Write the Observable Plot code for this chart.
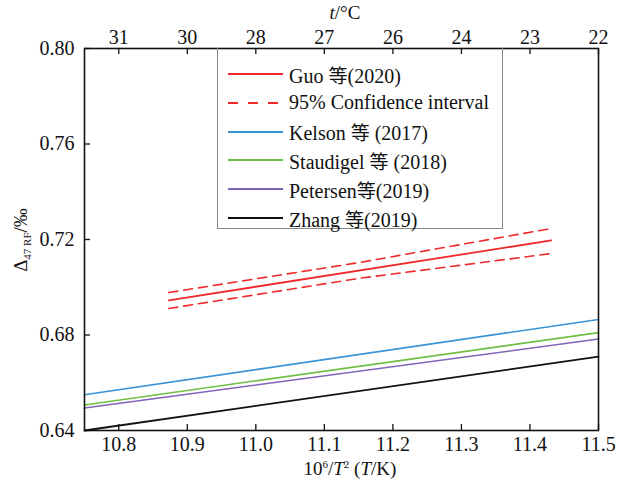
<!DOCTYPE html>
<html>
<head>
<meta charset="utf-8">
<script src="https://cdn.jsdelivr.net/npm/d3@7"></script>
<script src="https://cdn.jsdelivr.net/npm/@observablehq/plot@0.6"></script>
<style>
  html, body { margin: 0; padding: 0; background: #fff; }
  #wrap { position: relative; width: 627px; height: 490px; font-family: "Liberation Serif", "Times New Roman", "Noto Sans CJK SC", serif; color: #111; }
  .lbl { position: absolute; font-family: "Liberation Serif", "Times New Roman", serif; font-size: 19px; white-space: nowrap; line-height: 1; }
  #legend { position: absolute; left: 217px; top: 48px; width: 286px; height: 181px; border: 1px solid #888; border-top: none; box-sizing: border-box; background: transparent; }
  .row { position: absolute; left: 0; height: 24px; display: flex; align-items: center; font-family: "Liberation Serif", "Times New Roman", serif; font-size: 20px; white-space: nowrap; }
  .row svg { margin-left: 10px; margin-right: 6px; }
  .cjk { font-family: "Noto Sans CJK SC", sans-serif; font-size: 19px; }
</style>
</head>
<body>
<div id="wrap"></div>
<script>
// ---- data ----
const xTicks = [10.8, 10.9, 11.0, 11.1, 11.2, 11.3, 11.4, 11.5];
const xTickLabels = ["10.8", "10.9", "11.0", "11.1", "11.2", "11.3", "11.4", "11.5"];
const topTickLabels = ["31", "30", "28", "27", "26", "24", "23", "22"];
const yTicks = [0.64, 0.68, 0.72, 0.76, 0.80];
const yTickLabels = ["0.64", "0.68", "0.72", "0.76", "0.80"];

const fullX = [10.75, 11.5];
const kelsonY = [0.6550, 0.6865];
const staudigelY = [0.6507, 0.6810];
const petersenY = [0.6494, 0.6783];
const zhangY = [0.6400, 0.6709];

const guoX = [10.873, 11.431];
const guoY = [0.6945, 0.7196];
const ciX = [10.873, 11.15, 11.431];
const ciUpperY = [0.6978, 0.7103, 0.7246];
const ciLowerY = [0.6911, 0.7037, 0.7141];

const seriesNames = ["Guo 等(2020)", "95% Confidence interval", "Kelson 等 (2017)", "Staudigel 等 (2018)", "Petersen等(2019)", "Zhang 等(2019)"];
const seriesColors = ["#ee2a2d", "#ee2a2d", "#3a93d6", "#6fbf45", "#8064b8", "#111111"];
const seriesDash = [null, "9,6", null, null, null, null];

// ---- build ----
const pts = (xs, ys) => xs.map((x, i) => ({x, y: ys[i]}));
const xLabel = new Map(xTicks.map((v, i) => [v, xTickLabels[i]]));
const topLabel = new Map(xTicks.map((v, i) => [v, topTickLabels[i]]));
const yLabel = new Map(yTicks.map((v, i) => [v, yTickLabels[i]]));

const W = 627, H = 490, mL = 84, mR = 29, mT = 48, mB = 60;
const innerH = H - mT - mB, innerW = W - mL - mR, tick = 6;

const lineOpts = (c, dash, sw = 1.6) => ({x: "x", y: "y", stroke: c, strokeWidth: sw, strokeDasharray: dash ?? undefined});

const chart = Plot.plot({
  width: W, height: H,
  marginLeft: mL, marginRight: mR, marginTop: mT, marginBottom: mB,
  x: {domain: [10.75, 11.5]},
  y: {domain: [0.64, 0.80]},
  style: {fontFamily: '"Liberation Serif", "Times New Roman", serif', fontSize: "20px", background: "white", color: "#111"},
  marks: [
    Plot.line(pts(fullX, zhangY), lineOpts(seriesColors[5], null, 1.8)),
    Plot.line(pts(fullX, petersenY), lineOpts(seriesColors[4], null)),
    Plot.line(pts(fullX, staudigelY), lineOpts(seriesColors[3], null)),
    Plot.line(pts(fullX, kelsonY), lineOpts(seriesColors[2], null)),
    Plot.line(pts(ciX, ciUpperY), lineOpts(seriesColors[1], seriesDash[1])),
    Plot.line(pts(ciX, ciLowerY), lineOpts(seriesColors[1], seriesDash[1])),
    Plot.line(pts(guoX, guoY), lineOpts(seriesColors[0], null, 1.8)),
    Plot.ruleX(xTicks, {x: d => d, insetTop: innerH - tick, stroke: "#111", strokeWidth: 1.3}),
    Plot.ruleX(xTicks, {x: d => d, insetBottom: innerH - tick, stroke: "#111", strokeWidth: 1.3}),
    Plot.ruleY(yTicks, {y: d => d, insetRight: innerW - tick, stroke: "#111", strokeWidth: 1.3}),
    Plot.axisX(xTicks, {anchor: "bottom", tickSize: 0, tickPadding: 6, tickFormat: d => xLabel.get(d), label: null}),
    Plot.axisX(xTicks, {anchor: "top", tickSize: 0, tickPadding: 5, tickFormat: d => topLabel.get(d), label: null}),
    Plot.axisY(yTicks, {anchor: "left", tickSize: 0, tickPadding: 10, tickFormat: d => yLabel.get(d), label: null}),
    Plot.frame({stroke: "#111", strokeWidth: 1.6})
  ]
});

const wrap = document.getElementById("wrap");
wrap.appendChild(chart);

function addLabel(html, cx, cy, rotate) {
  const d = document.createElement("div");
  d.className = "lbl";
  d.innerHTML = html;
  wrap.appendChild(d);
  d.style.left = (cx - d.offsetWidth / 2) + "px";
  d.style.top = (cy - d.offsetHeight / 2) + "px";
  if (rotate) d.style.transform = `rotate(${rotate}deg)`;
}
addLabel('<i>t</i>/°C', 345, 12);
addLabel('10<sup style="font-size:11px;vertical-align:7px">6</sup>/<i>T</i><sup style="font-size:11px;vertical-align:7px">2</sup> (<i>T</i>/K)', 350, 468);
addLabel('Δ<sub style="font-size:11px;vertical-align:-4px">47 RF</sub>/‰', 22, 240, -90);

// legend
const legend = document.createElement("div");
legend.id = "legend";
wrap.appendChild(legend);
const rowCenters = [26, 54.8, 83.6, 112.4, 141.2, 170];
seriesNames.forEach((name, i) => {
  const row = document.createElement("div");
  row.className = "row";
  row.style.top = (rowCenters[i] - 12) + "px";
  const dash = seriesDash[i] ? `stroke-dasharray="10,10"` : "";
  const txt = name.replace("等", '<span class="cjk">等</span>');
  row.innerHTML = `<svg width="55" height="6"><line x1="0" y1="3" x2="55" y2="3" stroke="${seriesColors[i]}" stroke-width="2.2" ${dash}/></svg><span>${txt}</span>`;
  legend.appendChild(row);
});
</script>
</body>
</html>
